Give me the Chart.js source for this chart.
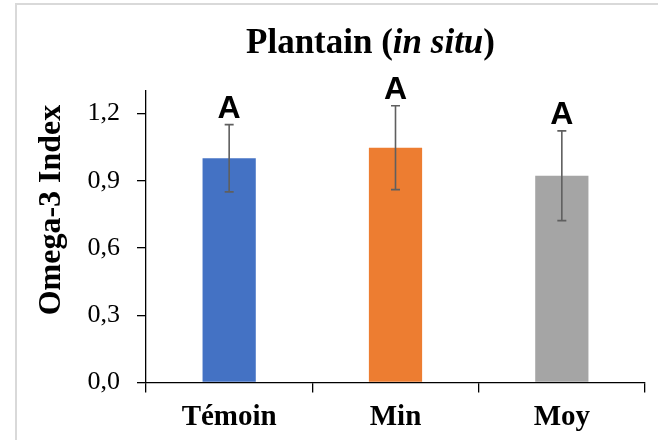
<!DOCTYPE html>
<html><head><meta charset="utf-8">
<script src="https://cdn.jsdelivr.net/npm/chart.js@4"></script>
<style>
html,body{margin:0;padding:0;background:#fff;overflow:hidden;width:658px;height:440px}
#frame{position:absolute;left:15px;top:3px;width:700px;height:500px;border:2px solid #d9d9d9;box-sizing:border-box}
#wrap{position:absolute;left:0;top:0;width:658px;height:440px}
</style></head><body>
<div id="frame"></div>
<div id="wrap"><canvas id="c" width="658" height="440"></canvas></div>
<script>
// ---- data ----
const categories = ['Témoin', 'Min', 'Moy'];
const means = [1.0, 1.047, 0.922];
const errors = [0.15, 0.187, 0.2];
const groupLetters = ['A', 'A', 'A'];
const yTicks = [0, 0.3, 0.6, 0.9, 1.2];
const titleMain = 'Plantain (';
const titleItalic = 'in situ';
const titleEnd = ')';
const yTitle = 'Omega-3 Index';

// ---- styles ----
const barColors = ['#4472C4', '#ED7D31', '#A5A5A5'];
const SERIF = '"Liberation Serif","Times New Roman",Times,serif';
const SANS = '"Liberation Sans",Arial,Helvetica,sans-serif';

const overlay = {
  id: 'overlay',
  afterDatasetsDraw(chart) {
    const ctx = chart.ctx;
    const y = chart.scales.y;
    const meta = chart.getDatasetMeta(0);
    ctx.save();
    meta.data.forEach((bar, i) => {
      const x = bar.x;
      const top = y.getPixelForValue(means[i] + errors[i]);
      const bot = y.getPixelForValue(means[i] - errors[i]);
      ctx.strokeStyle = '#5f5f5f';
      ctx.lineWidth = 1.6;
      ctx.beginPath();
      ctx.moveTo(x, top); ctx.lineTo(x, bot);
      ctx.moveTo(x - 4.5, top); ctx.lineTo(x + 4.5, top);
      ctx.moveTo(x - 4.5, bot); ctx.lineTo(x + 4.5, bot);
      ctx.stroke();
      ctx.fillStyle = '#000';
      ctx.font = 'bold 32px ' + SANS;
      ctx.textAlign = 'center';
      ctx.textBaseline = 'alphabetic';
      ctx.fillText(groupLetters[i], x, top - 7);
    });
    ctx.restore();
  },
  afterDraw(chart) {
    const ctx = chart.ctx;
    ctx.save();
    ctx.fillStyle = '#000';
    ctx.textBaseline = 'alphabetic';
    // title with italic part
    const fB = 'bold 35px ' + SERIF, fI = 'italic bold 35px ' + SERIF;
    ctx.font = fB; const w1 = ctx.measureText(titleMain).width; const w3 = ctx.measureText(titleEnd).width;
    ctx.font = fI; const w2 = ctx.measureText(titleItalic).width;
    let x = 370.5 - (w1 + w2 + w3) / 2;
    ctx.textAlign = 'left';
    ctx.font = fB; ctx.fillText(titleMain, x, 53); x += w1;
    ctx.font = fI; ctx.fillText(titleItalic, x, 53); x += w2;
    ctx.font = fB; ctx.fillText(titleEnd, x, 53);
    // y axis title
    ctx.translate(60, 210);
    ctx.rotate(-Math.PI / 2);
    ctx.textAlign = 'center';
    ctx.font = 'bold 32px ' + SERIF;
    ctx.fillText(yTitle, 0, 0);
    ctx.restore();
  }
};

new Chart(document.getElementById('c'), {
  type: 'bar',
  data: {
    labels: categories,
    datasets: [{ data: means, backgroundColor: barColors, barPercentage: 0.32, categoryPercentage: 1 }]
  },
  options: {
    responsive: false, animation: false, devicePixelRatio: 1,
    layout: { padding: { top: 91, right: 13, left: 0, bottom: 0 } },
    plugins: { legend: { display: false }, tooltip: { enabled: false }, title: { display: false } },
    scales: {
      x: {
        grid: { offset: true, drawOnChartArea: false, drawTicks: true, tickLength: 10, color: '#000', lineWidth: 1.3 },
        border: { color: '#000', width: 1.3 },
        ticks: { font: { family: SERIF, size: 29, weight: 'bold' }, color: '#000', padding: 8 },
        afterFit(s) { s.height = 57.5; }
      },
      y: {
        min: 0, max: 1.3,
        afterBuildTicks(s) { s.ticks = yTicks.map(v => ({ value: v })); },
        grid: { drawOnChartArea: false, drawTicks: true, tickLength: 9, color: '#000', lineWidth: 1.3 },
        border: { color: '#000', width: 1.3 },
        ticks: { callback: v => Number(v).toFixed(1).replace('.', ','), font: { family: SERIF, size: 26 }, color: '#000', padding: 17 },
        afterFit(s) { s.width = 146; }
      }
    }
  },
  plugins: [overlay]
});
</script>
</body></html>
